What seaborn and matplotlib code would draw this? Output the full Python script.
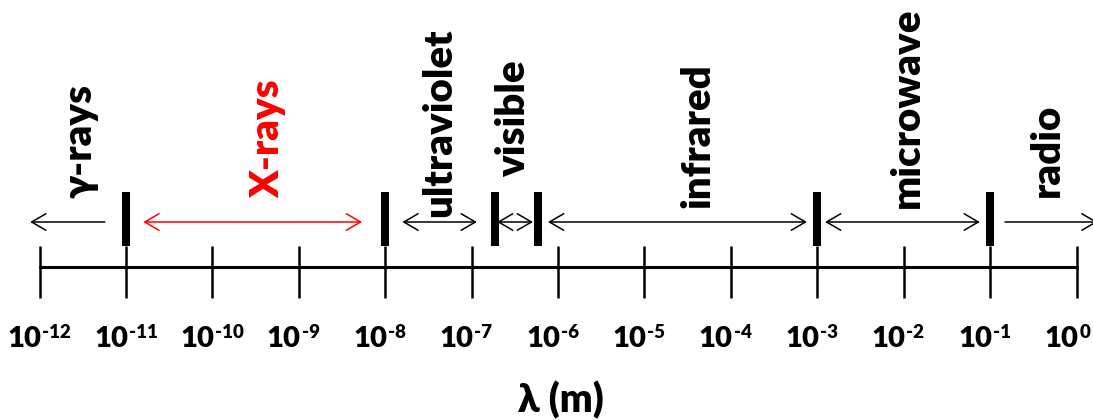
import numpy as np
import matplotlib
matplotlib.use("Agg")
import matplotlib.pyplot as plt
import seaborn as sns

# ---- data ----
tick_exponents = [-12, -11, -10, -9, -8, -7, -6, -5, -4, -3, -2, -1, 0]
tick_base = "10"
tick_powers = ["-12", "-11", "-10", "-9", "-8", "-7", "-6", "-5", "-4", "-3", "-2", "-1", "0"]

# region boundaries (m)
boundaries = [1e-11, 1e-8, 1.85e-7, 5.9e-7, 1e-3, 1e-1]

band_names = ["γ-rays", "X-rays", "ultraviolet", "visible", "infrared", "microwave", "radio"]
band_colors = ["black", "red", "black", "black", "black", "black", "black"]
arrow_start = [5.7e-12, 1.59e-11, 1.58e-8, 1.97e-7, 7.65e-7, 1.23e-3, 0.149]
arrow_end = [7.8e-13, 5.4e-9, 1.15e-7, 5.13e-7, 7.6e-4, 7.6e-2, 1.75]
arrow_styles = ["->", "<->", "<->", "<->", "<->", "<->", "->"]
label_pos = [2.94e-12, 4.4e-10, 4.3e-8, 3.1e-7, 4.16e-5, 1.09e-2, 0.455]
label_bottom = [198, 198, 217, 177, 208, 208, 197]

axis_title = "λ (m)"

# ---- style ----
sns.set_theme(style="white")
plt.rcParams["font.family"] = ["Lato", "DejaVu Sans"]
plt.rcParams["font.weight"] = "heavy"
W = "heavy"

fig = plt.figure(figsize=(10.93, 4.20), dpi=100)
ax = fig.add_axes([0, 0, 1, 1])
ax.set_xscale("log")
px0, dec = 39.5, 86.42
ax.set_xlim(10 ** (-12 - px0 / dec), 10 ** ((1093 - px0) / dec - 12))
ax.set_ylim(420, 0)
ax.axis("off")

tick_vals = [10.0 ** e for e in tick_exponents]
axis_y = 266.7

# main axis line
sns.lineplot(x=[tick_vals[0], tick_vals[-1]], y=[axis_y, axis_y], ax=ax,
             color="black", linewidth=2.2, legend=False)
# decade ticks
ax.vlines(tick_vals, 246, 298, color="black", linewidth=1.8)
# boundaries
ax.vlines(boundaries, 192, 246, color="black", linewidth=5.8)

# tick labels: base and superscript
for v, p in zip(tick_vals, tick_powers):
    ax.annotate(tick_base, xy=(v, 347), xytext=(1.5, 0), textcoords="offset points",
                ha="right", va="baseline", fontsize=21, fontweight=W,
                color="black", annotation_clip=False)
    ax.annotate(p, xy=(v, 338.5), xytext=(2.0, 0), textcoords="offset points",
                ha="left", va="baseline", fontsize=13.5, fontweight=W,
                color="black", annotation_clip=False)

# arrows and band labels
for name, c, s, e, st, lp, lb in zip(band_names, band_colors, arrow_start, arrow_end,
                                     arrow_styles, label_pos, label_bottom):
    ax.annotate("", xy=(e, 222), xytext=(s, 222), annotation_clip=False,
                arrowprops=dict(arrowstyle=st + ",head_length=0.6,head_width=0.35",
                                color=c, lw=1.1, shrinkA=0, shrinkB=0,
                                mutation_scale=17))
    ax.text(lp, lb, name, rotation=90, ha="center", va="bottom", fontsize=29,
            fontweight=W, color=c)

ax.text(10 ** ((561 - px0) / dec - 12), 412, axis_title, ha="center", va="baseline",
        fontsize=28, fontweight=W, color="black")

fig.savefig("out.png", dpi=100)
